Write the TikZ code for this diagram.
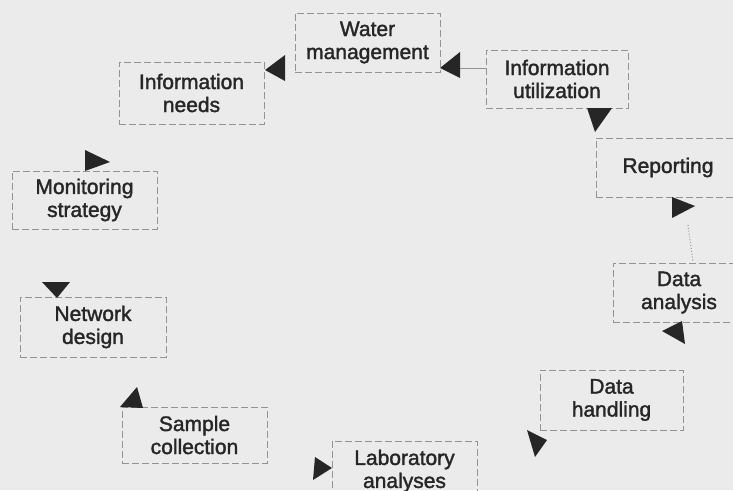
\documentclass[tikz,border=0pt]{standalone}
\usepackage{fontspec}
\setmainfont{Liberation Sans}
\newfontfamily\scanfont[FakeBold=1.6]{Liberation Sans}
\definecolor{bg}{HTML}{EBEBEB}
\definecolor{ink}{HTML}{262626}
\definecolor{boxgray}{HTML}{939393}
\begin{document}
\begin{tikzpicture}[x=1pt,y=-1pt,
  box/.style={draw=boxgray, dash pattern=on 7pt off 3pt, line width=0.9pt,
              rectangle, text=ink, align=center, inner sep=0pt,
              font=\scanfont\fontsize{21}{23}\selectfont},
  tri/.style={fill=ink},
  conn/.style={draw=boxgray, line width=0.9pt}]
\fill[bg] (0,0) rectangle (733,490);
\useasboundingbox (0,0) rectangle (733,490);

% boxes
\node[box, minimum width=145pt, minimum height=62pt] (infoneeds) at (191.5,93) {Information\\needs};
\node[box, minimum width=145pt, minimum height=59pt] (water) at (367.5,42.5) {Water\\management};
\node[box, minimum width=142pt, minimum height=58pt] (infoutil) at (557,79) {Information\\utilization};
\node[box, minimum width=144pt, minimum height=59pt] (reporting) at (668,167.5) {Reporting};
\node[box, minimum width=132pt, minimum height=59pt] (analysis) at (679,292.5) {Data\\analysis};
\node[box, minimum width=143pt, minimum height=60pt] (handling) at (611.5,400) {Data\\handling};
\node[box, minimum width=145pt, minimum height=60pt] (lab) at (404.5,471) {Laboratory\\analyses};
\node[box, minimum width=145pt, minimum height=56pt] (sample) at (194.5,435) {Sample\\collection};
\node[box, minimum width=146pt, minimum height=60pt] (network) at (93,327) {Network\\design};
\node[box, minimum width=145pt, minimum height=58pt] (monitoring) at (84.5,200) {Monitoring\\strategy};

% arrowheads (monitoring -> information needs)
\fill[tri] (110,162) -- (85,150) -- (85,171) -- cycle;
% water management -> information needs
\fill[tri] (265,70) -- (285,55) -- (285,81) -- cycle;
% information utilization -> water management
\coordinate (a3) at (460,68);
\fill[tri] (440,68) -- (460,52) -- (a3) -- (460,78) -- cycle;
\draw[conn] (a3) -- (infoutil.west |- a3);
% information utilization -> reporting
\fill[tri] (595,132) -- (587,108) -- (612,108) -- cycle;
% reporting -> data analysis
\coordinate (a5) at (688,225);
\fill[tri] (695,206) -- (672,197) -- (672,218) -- cycle;
\draw[conn, dotted, line width=1.1pt] (a5) -- (693,262);
% data analysis -> data handling
\fill[tri] (662,331) -- (682,321) -- (685,344) -- cycle;
% data handling -> laboratory analyses
\fill[tri] (527,430) -- (547,440) -- (535,457) -- cycle;
% sample collection -> laboratory analyses
\fill[tri] (315,457) -- (332,468) -- (313,480) -- cycle;
% sample collection -> network design
\fill[tri] (137,387) -- (120,407) -- (143,408) -- cycle;
% monitoring strategy -> network design
\fill[tri] (42,282) -- (70,282) -- (57,298) -- cycle;
\end{tikzpicture}
\end{document}
